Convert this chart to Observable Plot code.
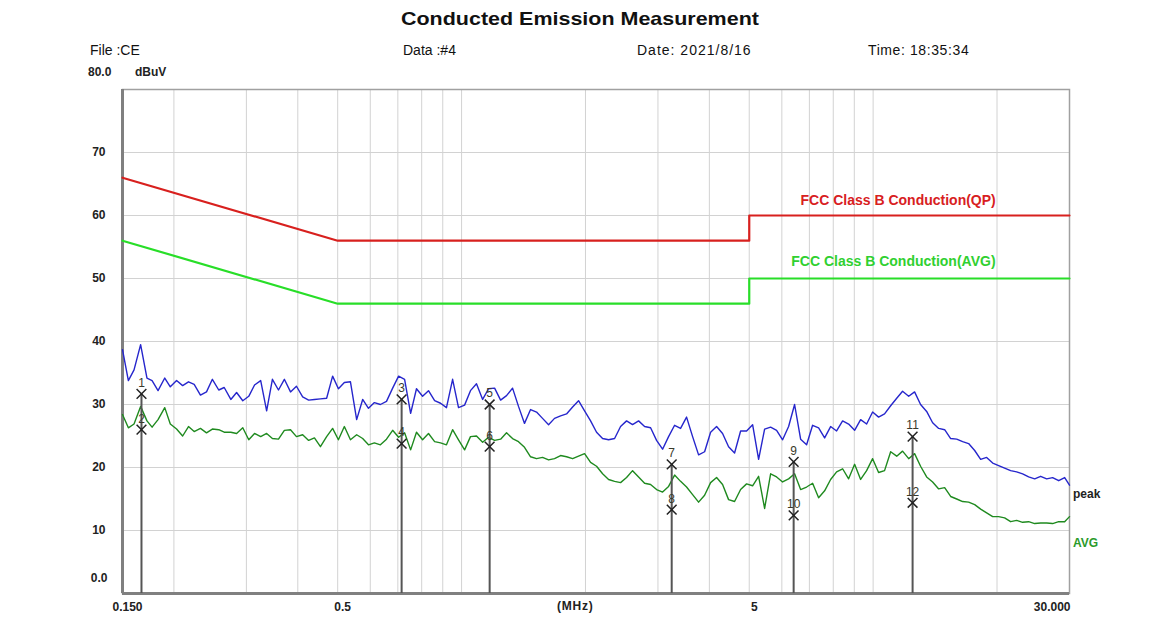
<!DOCTYPE html>
<html><head><meta charset="utf-8">
<script src="https://cdn.jsdelivr.net/npm/d3@7"></script>
<script src="https://cdn.jsdelivr.net/npm/@observablehq/plot@0.6"></script>
<style>
body{margin:0;background:#fff;font-family:"Liberation Sans",Arial,sans-serif;color:#111;}
#wrap{position:relative;width:1152px;height:619px;overflow:hidden;}
#chart{position:absolute;left:0;top:0;}
.t{position:absolute;white-space:nowrap;line-height:1;}
</style></head><body>
<div id="wrap">
<div id="chart"></div>
<div class="t" style="left:401px;top:9px;font-size:19px;font-weight:bold;transform:scaleX(1.13);transform-origin:left;">Conducted Emission Measurement</div>
<div class="t" style="left:90px;top:43px;font-size:14px;">File :CE</div>
<div class="t" style="left:403px;top:43px;font-size:14px;">Data :#4</div>
<div class="t" style="left:637px;top:43px;font-size:14px;letter-spacing:1px;">Date: 2021/8/16</div>
<div class="t" style="left:868px;top:43px;font-size:14px;letter-spacing:0.6px;">Time: 18:35:34</div>
<div class="t" style="left:88px;top:66px;font-size:12px;font-weight:bold;color:#222;">80.0</div>
<div class="t" style="left:135px;top:66px;font-size:12px;font-weight:bold;color:#222;">dBuV</div>
<div class="t" style="left:557px;top:600px;font-size:12px;font-weight:bold;color:#222;letter-spacing:0.8px;">(MHz)</div>
<div class="t" style="left:1073px;top:488px;font-size:12px;font-weight:bold;color:#222;">peak</div>
<div class="t" style="left:1073px;top:537px;font-size:12px;font-weight:bold;color:#2a9a2a;">AVG</div>
</div>
<script>
// Frequencies (MHz) of the sampled trace points
const freqMHz = [
0.150,0.155,0.160,0.166,0.172,0.177,0.183,0.190,0.196,0.203,
0.210,0.217,0.224,0.232,0.240,0.248,0.257,0.265,0.275,0.284,
0.294,0.304,0.314,0.325,0.336,0.347,0.359,0.371,0.384,0.397,
0.411,0.425,0.439,0.454,0.470,0.486,0.502,0.519,0.537,0.556,
0.575,0.594,0.614,0.635,0.657,0.680,0.703,0.727,0.752,0.777,
0.804,0.831,0.860,0.889,0.919,0.951,0.983,1.017,1.051,1.087,
1.125,1.163,1.203,1.244,1.286,1.330,1.375,1.422,1.471,1.521,
1.573,1.627,1.682,1.740,1.799,1.861,1.924,1.990,2.058,2.128,
2.201,2.276,2.354,2.434,2.517,2.603,2.692,2.784,2.879,2.977,
3.079,3.184,3.293,3.405,3.521,3.642,3.766,3.895,4.028,4.165,
4.307,4.454,4.606,4.764,4.926,5.095,5.269,5.449,5.635,5.827,
6.026,6.232,6.444,6.665,6.892,7.127,7.371,7.623,7.883,8.152,
8.430,8.718,9.016,9.324,9.642,9.971,10.31,10.66,11.03,11.41,
11.79,12.20,12.61,13.04,13.49,13.95,14.43,14.92,15.43,15.96,
16.50,17.06,17.65,18.25,18.87,19.52,20.18,20.87,21.58,22.32,
23.08,23.87,24.69,25.53,26.40,27.30,28.24,29.20,30.00];

// Peak detector trace (dBuV)
const peakLevel = [
38.7,33.8,35.5,39.5,34.2,33.8,32.2,34.2,32.8,33.8,
33.0,33.6,33.2,31.5,32.0,34.0,32.3,32.7,30.8,31.9,
30.6,31.3,33.1,33.8,29.0,34.0,32.3,34.0,32.0,32.9,
31.2,30.7,30.8,30.9,31.0,34.5,32.5,33.5,33.6,27.6,
30.8,29.4,30.3,30.0,30.5,32.6,34.5,34.0,28.6,32.5,
31.3,32.2,30.6,30.2,29.5,34.0,29.5,29.9,32.2,33.3,
30.8,32.5,32.6,30.7,31.4,32.6,29.7,27.0,29.2,28.8,
27.8,26.8,27.8,28.2,28.5,29.6,30.6,29.0,27.4,25.6,
24.6,24.4,24.6,26.5,27.4,26.8,27.4,26.5,26.3,24.3,
22.9,24.9,26.7,26.2,28.0,24.9,22.0,22.5,25.6,26.5,
25.4,23.3,22.3,25.8,25.8,26.8,21.3,26.1,26.4,25.9,
24.4,26.5,30.0,24.5,23.6,26.7,26.3,24.7,26.5,25.8,
27.4,26.9,25.9,27.6,26.9,28.8,28.0,28.5,29.8,31.0,
32.1,31.3,32.0,30.0,28.9,27.1,26.2,26.0,24.6,24.5,
24.1,23.8,22.7,21.3,21.6,20.7,20.3,19.9,19.5,19.3,
19.0,18.5,18.2,18.6,18.2,18.4,17.9,18.4,17.2];

// Average detector trace (dBuV)
const avgLevel = [
28.4,26.3,26.9,29.7,27.4,26.4,27.6,29.5,26.9,26.1,
25.0,26.5,25.7,26.2,25.5,26.1,26.0,25.6,25.6,25.4,
26.3,24.4,25.4,24.9,25.4,24.6,24.5,25.9,26.0,24.9,
25.2,24.3,24.7,23.3,24.9,26.2,24.4,26.5,24.4,25.2,
24.6,23.6,23.9,23.6,24.5,25.9,24.8,25.5,22.8,25.6,
24.4,25.4,24.1,23.9,23.6,26.0,24.4,22.8,24.9,25.0,
24.0,24.8,24.3,24.5,25.5,24.6,24.1,23.2,21.7,21.4,
21.6,21.2,21.4,21.9,21.7,21.4,21.8,22.2,20.8,20.2,
19.0,18.1,17.8,17.6,18.4,19.5,18.5,17.5,17.3,16.5,
16.1,17.0,18.8,17.8,16.9,15.7,14.5,15.6,17.6,18.4,
17.3,14.9,14.6,16.5,17.4,17.1,18.6,13.5,19.0,18.5,
17.7,18.2,19.0,16.5,16.9,17.5,15.2,16.3,18.1,19.3,
19.8,18.2,20.5,18.1,19.5,21.4,19.2,19.5,22.5,21.8,
22.6,21.4,22.2,20.2,18.5,17.7,16.6,16.8,15.4,15.0,
14.6,14.5,14.1,13.4,12.8,12.2,12.2,12.0,11.4,11.6,
11.3,11.4,11.1,11.2,11.2,11.1,11.4,11.4,12.2];

// FCC Class B limits
const limitFreq = [0.15, 0.5, 5, 5, 30];
const qpLimit   = [66, 56, 56, 60, 60];
const avgLimit  = [56, 46, 46, 50, 50];

// Markers
const markerNo    = [1, 2, 3, 4, 5, 6, 7, 8, 9, 10, 11, 12];
const markerFreq  = [0.1668, 0.1668, 0.715, 0.715, 1.17, 1.17, 3.24, 3.24, 6.41, 6.41, 12.47, 12.47];
const markerLevel = [31.7, 26.0, 30.8, 23.8, 30.0, 23.3, 20.5, 13.3, 20.9, 12.4, 24.9, 14.4];

// Axes
const gridFreq = [0.2,0.3,0.4,0.5,0.6,0.7,0.8,0.9,1,2,3,4,5,6,7,8,9,10,20];
const yGrid = [10,20,30,40,50,60,70];
const yTickValues = [10,20,30,40,50,60,70];
const yTickLabels = ["10","20","30","40","50","60","70"];
const xTickValues = [0.15, 0.5, 5];
const xTickLabels = ["0.150", "0.5", "5"];
const xEndTick = [30];
const xEndLabel = ["30.000"];

const peakData = freqMHz.map((f, i) => ({f, v: peakLevel[i]}));
const avgData = freqMHz.map((f, i) => ({f, v: avgLevel[i]}));
const qpData = limitFreq.map((f, i) => ({f, v: qpLimit[i]}));
const avLimData = limitFreq.map((f, i) => ({f, v: avgLimit[i]}));
const markers = markerNo.map((n, i) => ({n: String(n), f: markerFreq[i], v: markerLevel[i]}));
const markerRules = markers.filter((d, i) => i % 2 === 0);

const font = "Liberation Sans, Arial, sans-serif";
const chart = Plot.plot({
  width: 1152, height: 619,
  marginTop: 89, marginBottom: 26, marginLeft: 122, marginRight: 83,
  x: {type: "log", domain: [0.15, 30], axis: null},
  y: {domain: [0, 80], axis: null},
  style: {background: "transparent", fontFamily: font},
  marks: [
    Plot.ruleX(gridFreq, {stroke: "#d2d2d2", strokeWidth: 1}),
    Plot.ruleY(yGrid, {stroke: "#d2d2d2", strokeWidth: 1}),
    Plot.frame({stroke: "#a0a0a0", strokeWidth: 1.5}),
    Plot.ruleX([0.15], {stroke: "#808080", strokeWidth: 3}),
    Plot.ruleY([0], {stroke: "#808080", strokeWidth: 3}),
    Plot.line(qpData, {x: "f", y: "v", stroke: "#d8201e", strokeWidth: 2.2}),
    Plot.line(avLimData, {x: "f", y: "v", stroke: "#28de28", strokeWidth: 2.2}),
    Plot.line(peakData, {x: "f", y: "v", stroke: "#2626cc", strokeWidth: 1.4}),
    Plot.line(avgData, {x: "f", y: "v", stroke: "#1f8a1f", strokeWidth: 1.4}),
    Plot.ruleX(markerRules, {x: "f", y1: 0, y2: "v", stroke: "#555", strokeWidth: 2}),
    Plot.dot(markers, {x: "f", y: "v", symbol: "times", r: 4.5, stroke: "#222", strokeWidth: 1.5}),
    Plot.text(markers, {x: "f", y: "v", text: "n", dy: -11, fontSize: 12, fill: "#3a3a2a"}),
    Plot.text(["FCC Class B Conduction(QP)"], {x: 11.5, y: 60, dy: -15, text: d => d, fill: "#d8201e", fontSize: 14, fontWeight: "bold"}),
    Plot.text(["FCC Class B Conduction(AVG)"], {x: 11.2, y: 50, dy: -17, text: d => d, fill: "#30d030", fontSize: 14, fontWeight: "bold"}),
    Plot.text(yTickValues, {x: 0.15, y: d => d, text: (d, i) => yTickLabels[i], dx: -17, textAnchor: "end", fontSize: 12, fontWeight: "bold", fill: "#222"}),
    Plot.text(["0.0"], {x: 0.15, y: 0, dx: -15, dy: -15, text: d => d, textAnchor: "end", fontSize: 12, fontWeight: "bold", fill: "#222"}),
    Plot.text(xTickValues, {x: d => d, y: 0, dx: 5, dy: 14, text: (d, i) => xTickLabels[i], fontSize: 12, fontWeight: "bold", fill: "#222"}),
    Plot.text(xEndTick, {x: d => d, y: 0, dx: 1, dy: 14, text: (d, i) => xEndLabel[i], textAnchor: "end", fontSize: 12, fontWeight: "bold", fill: "#222"})
  ]
});
document.getElementById("chart").appendChild(chart);
</script>
</body></html>
